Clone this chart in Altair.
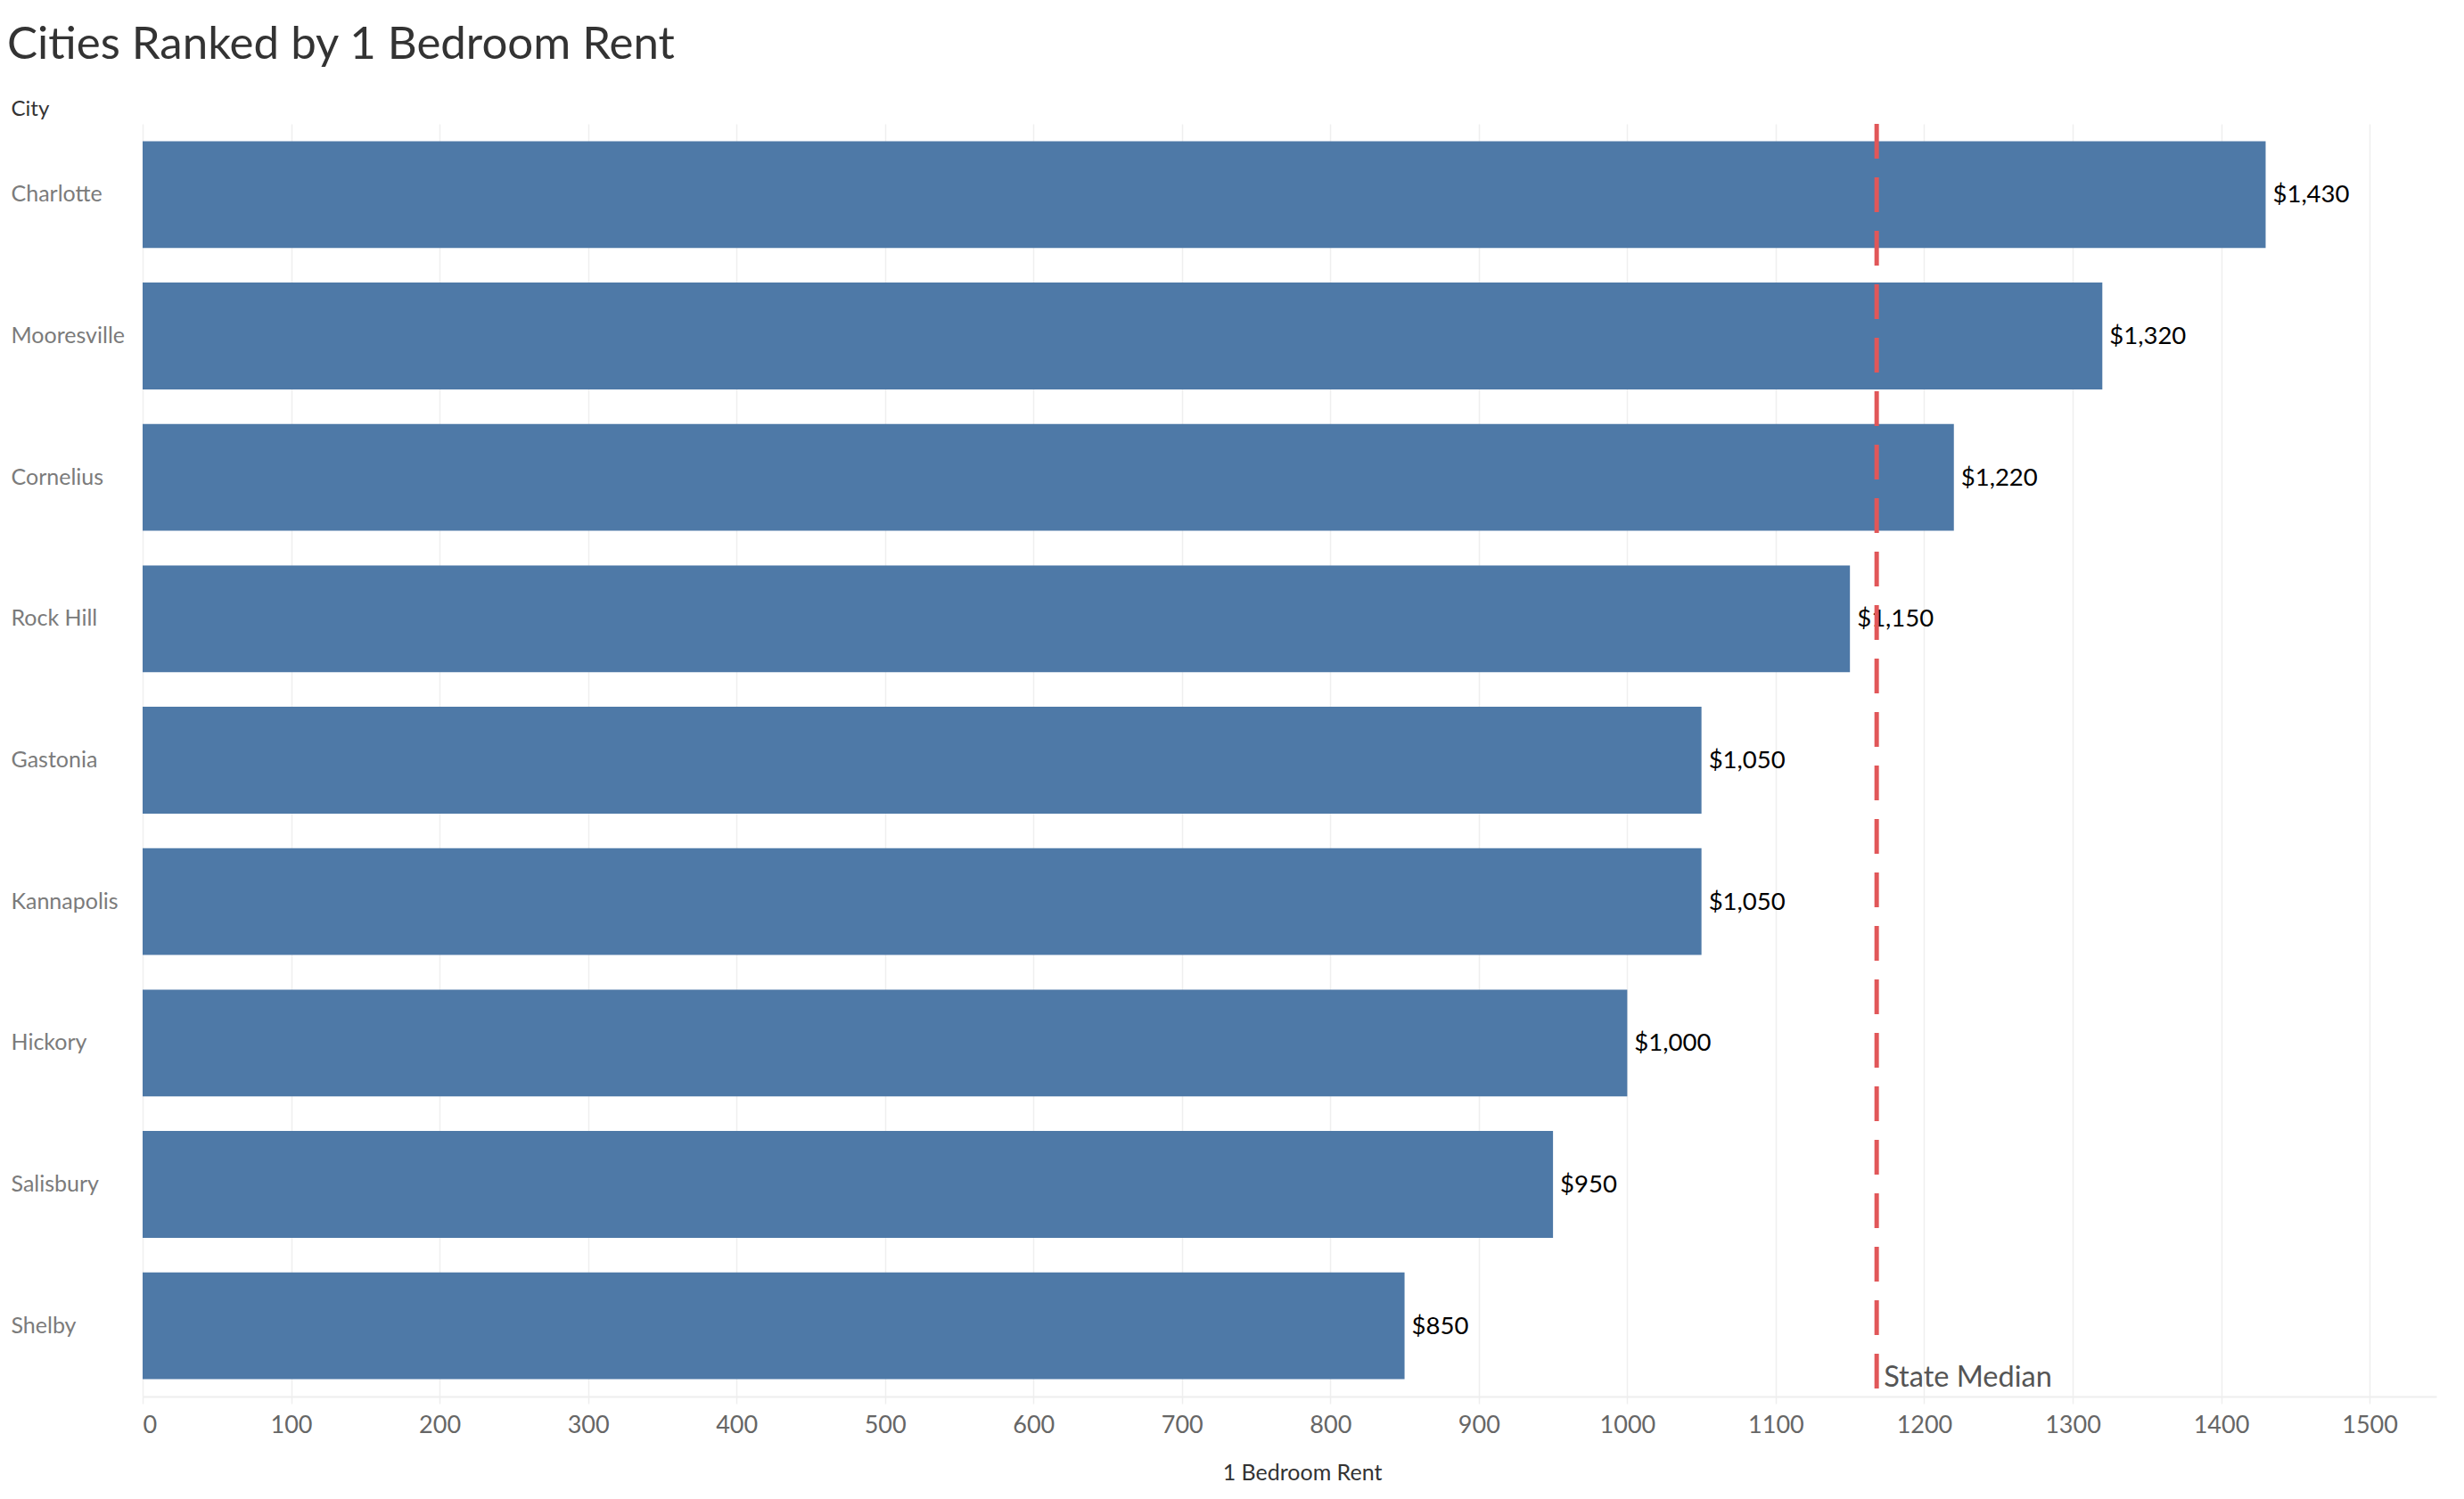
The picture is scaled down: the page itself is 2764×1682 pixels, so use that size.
import altair as alt
import pandas as pd

# values
cities = ["Charlotte", "Mooresville", "Cornelius", "Rock Hill", "Gastonia",
          "Kannapolis", "Hickory", "Salisbury", "Shelby"]
rents = [1430, 1320, 1220, 1150, 1050, 1050, 1000, 950, 850]
state_median = 1168
x_ticks = list(range(0, 1600, 100))

df = pd.DataFrame({"City": cities, "Rent": rents})
median_df = pd.DataFrame({"Rent": [state_median], "label": ["State Median"]})

FONT = "Lato"
W, H = 2573, 1428

x_scale = alt.Scale(domain=[0, 1545], nice=False, zero=True)
y_scale = alt.Scale(paddingInner=0.245, paddingOuter=0.1225)

base = alt.Chart(df)

bars = base.mark_bar(color="#4E79A7").encode(
    x=alt.X("Rent:Q", scale=x_scale,
            axis=alt.Axis(values=x_ticks, format="d", title="1 Bedroom Rent",
                          grid=True, gridColor="#efefef", gridWidth=1.5,
                          domainColor="#eeeeee", domainWidth=2,
                          tickColor="#eeeeee", tickSize=8, tickWidth=1.5,
                          labelFlush=True, labelColor="#666666",
                          labelFontSize=27, labelFont=FONT, labelPadding=11,
                          titleFont=FONT, titleFontSize=25, titleColor="#333333",
                          titleFontWeight="normal", titlePadding=28,
                          titleX=W / 2 + 14)),
    y=alt.Y("City:N", sort=cities, scale=y_scale,
            axis=alt.Axis(ticks=False, domain=False, labelAlign="left",
                          labelPadding=148, labelColor="#7b7b7b",
                          labelFontSize=25, labelFont=FONT,
                          title="City", titleAngle=0, titleAlign="left",
                          titleBaseline="middle", titleX=-148, titleY=-17,
                          titleFont=FONT, titleFontSize=24,
                          titleColor="#333333", titleFontWeight="normal")),
)

values = base.mark_text(align="left", baseline="middle", dx=8, dy=1,
                        fontSize=27.5, font=FONT, color="#000000").encode(
    x=alt.X("Rent:Q", scale=x_scale),
    y=alt.Y("City:N", sort=cities, scale=y_scale),
    text=alt.Text("Rent:Q", format="$,.0f"),
)

median_rule = alt.Chart(median_df).mark_rule(
    color="#E15759", strokeWidth=5, strokeDash=[39, 21]
).encode(x=alt.X("Rent:Q", scale=x_scale))

median_label = alt.Chart(median_df).mark_text(
    align="left", baseline="middle", dx=8, fontSize=32.5, font=FONT,
    color="#555555"
).encode(
    x=alt.X("Rent:Q", scale=x_scale),
    y=alt.value(H - 21),
    text="label:N",
)

chart = alt.layer(bars, values, median_rule, median_label).properties(
    width=W,
    height=H,
    autosize=alt.AutoSizeParams(type="none"),
    padding={"left": 152, "top": 131, "right": 20, "bottom": 100},
    title=alt.TitleParams("Cities Ranked by 1 Bedroom Rent", anchor="start",
                          font=FONT, fontSize=51, fontWeight="normal",
                          color="#333333", dx=-4, offset=33),
).configure_view(stroke=None)

chart.save("out.html", embed_options={"renderer": "svg", "actions": False})
